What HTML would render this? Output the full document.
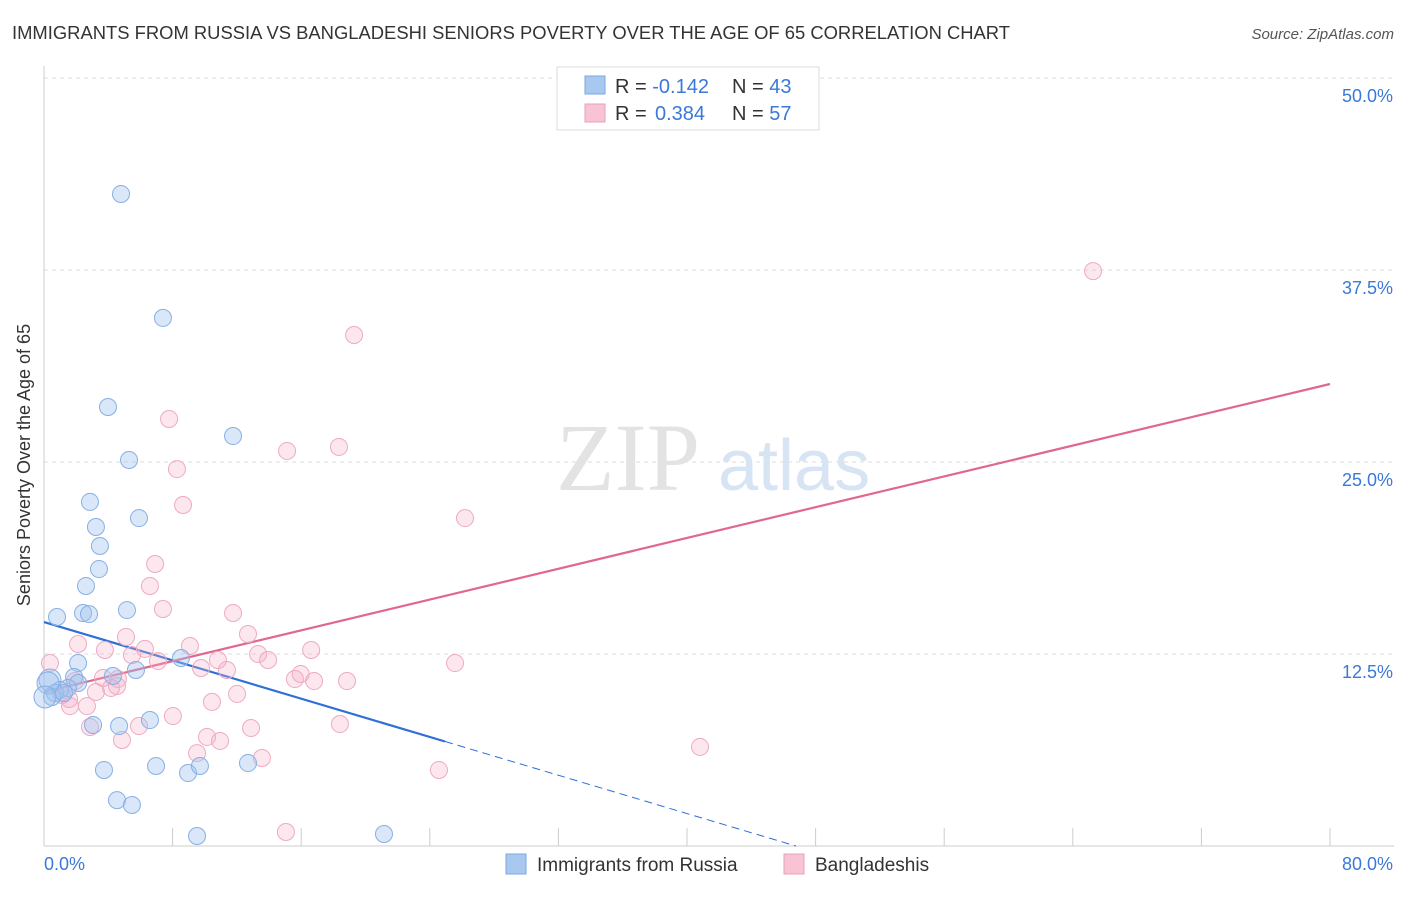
<!DOCTYPE html>
<html><head><meta charset="utf-8"><style>
body{margin:0;background:#fff;font-family:"Liberation Sans",sans-serif}
</style></head><body>
<svg width="1406" height="892" xmlns="http://www.w3.org/2000/svg" style="font-family:'Liberation Sans',sans-serif">
<text x="12" y="39" font-size="18" fill="#333" textLength="998" lengthAdjust="spacingAndGlyphs">IMMIGRANTS FROM RUSSIA VS BANGLADESHI SENIORS POVERTY OVER THE AGE OF 65 CORRELATION CHART</text>
<text x="1394" y="39" font-size="15" fill="#555" font-style="italic" text-anchor="end">Source: ZipAtlas.com</text>
<g id="grid"></g>
<text x="700" y="490" font-size="96" fill="#e3e3e3" text-anchor="end" font-family="Liberation Serif">ZIP</text>
<text x="718" y="490" font-size="72" fill="#d6e4f4">atlas</text>
<text x="20" y="455" font-size="18" fill="#333" text-anchor="middle" transform="rotate(-90 30 455)">Seniors Poverty Over the Age of 65</text>
<g id="lines"></g>
<g id="points"></g>
<g>
<rect x="557" y="67" width="262" height="63" fill="#fff" stroke="#ddd"/>
<rect x="585" y="76" width="20" height="18" fill="#a9c8f0" stroke="#7aa7e0"/>
<rect x="585" y="104" width="20" height="18" fill="#f8c4d4" stroke="#e8a0b8"/>
<text x="615" y="93" font-size="20" fill="#333">R = <tspan fill="#3b78d8">-0.142</tspan></text>
<text x="732" y="93" font-size="20" fill="#333">N = <tspan fill="#3b78d8">43</tspan></text>
<text x="615" y="120" font-size="20" fill="#333">R = <tspan x="655" fill="#3b78d8">0.384</tspan></text>
<text x="732" y="120" font-size="20" fill="#333">N = <tspan fill="#3b78d8">57</tspan></text>
</g>
<g>
<rect x="506" y="854" width="20" height="20" fill="#a9c8f0" stroke="#7aa7e0"/>
<text x="537" y="871" font-size="19" fill="#333">Immigrants from Russia</text>
<rect x="784" y="854" width="20" height="20" fill="#f8c4d4" stroke="#e8a0b8"/>
<text x="815" y="871" font-size="19" fill="#333">Bangladeshis</text>
</g>
</svg>
<script>
const yTicks=[12.5,25,37.5,50];
const yTickLabels=["12.5%","25.0%","37.5%","50.0%"];
const xTicks=[0,8,16,24,32,40,48,56,64,72,80];
const russiaX=[4.79,7.40,3.98,11.76,5.29,2.86,5.91,3.23,3.48,3.42,2.61,0.81,2.43,2.80,5.16,2.12,8.52,5.72,4.29,1.87,2.12,0.37,1.49,1.00,0.68,0.50,1.24,6.59,3.05,4.67,3.73,6.97,8.96,9.70,12.69,4.54,5.47,9.52,21.15,0.25,0.06];
const russiaY=[42.45,34.38,28.58,26.69,25.13,22.40,21.35,20.77,19.53,18.03,16.93,14.91,15.17,15.10,15.36,11.91,12.24,11.46,11.07,11.00,10.61,10.81,10.29,10.16,9.96,9.70,9.96,8.20,7.88,7.81,4.95,5.21,4.75,5.21,5.40,2.99,2.67,0.65,0.78,10.61,9.70];
const bangX=[65.26,19.29,7.78,15.12,18.35,8.27,8.65,26.19,6.91,6.59,7.40,11.76,12.69,5.10,2.12,6.28,9.08,3.79,13.32,16.62,5.47,7.09,10.82,13.94,25.57,9.77,11.38,15.97,0.37,15.61,16.80,18.85,4.60,3.67,1.93,4.54,4.17,3.23,1.12,1.56,12.01,10.45,1.62,2.67,8.02,18.41,12.88,2.86,5.91,4.85,10.14,10.95,9.52,13.56,40.81,24.57,15.05];
const bangY=[37.43,33.27,27.80,25.72,25.98,24.54,22.20,21.35,18.36,16.93,15.43,15.17,13.80,13.61,13.15,12.83,13.02,12.76,12.50,12.76,12.43,12.04,12.11,12.11,11.91,11.59,11.46,11.20,11.91,10.87,10.74,10.74,10.87,10.94,10.74,10.42,10.29,10.03,9.83,9.57,9.90,9.38,9.11,9.11,8.46,7.94,7.68,7.75,7.81,6.90,7.10,6.84,6.05,5.73,6.45,4.95,0.91];
const russiaTrend=[14.58,-0.3117];
const bangTrend=[10.03,0.2506];
const X=v=>44+v/80*1286, Y=v=>846-v/12.5*192;
const NS="http://www.w3.org/2000/svg";
function mk(t,a,p){const e=document.createElementNS(NS,t);for(const k in a)e.setAttribute(k,a[k]);p.appendChild(e);return e;}
const grid=document.getElementById('grid');
yTicks.forEach((v,i)=>{
 const l=mk('line',{x1:44,x2:1394,y1:Y(v),y2:Y(v),stroke:'#ddd','stroke-dasharray':'4,4'},grid);
 
 
 const t=mk('text',{x:1393,y:Y(v)+24,'font-size':18,fill:'#3b78d8','text-anchor':'end'},grid);
 t.textContent=yTickLabels[i];
 
 
});
const ax=mk('line',{x1:44,x2:44,y1:66,y2:846,stroke:'#ccc'},grid);


const bx=mk('line',{x1:44,x2:1394,y1:846,y2:846,stroke:'#ccc'},grid);


xTicks.forEach(v=>{const l=mk('line',{x1:X(v),x2:X(v),y1:828,y2:846,stroke:'#ccc'},grid);
 
 });
const t0=mk('text',{x:44,y:870,'font-size':18,fill:'#3b78d8'},grid);t0.textContent='0.0%';


const t1=mk('text',{x:1393,y:870,'font-size':18,fill:'#3b78d8','text-anchor':'end'},grid);t1.textContent='80.0%';


const pts=document.getElementById('points');
function series(xs,ys,fill,stroke,name){xs.forEach((x,i)=>{
 const big=(x<0.4&&name==='russia-point')?11:8.5;
 const c=mk('circle',{cx:X(x),cy:Y(ys[i]),r:big,fill:fill,stroke:stroke,'stroke-width':1},pts);
 
 
});}
series(bangX,bangY,'rgba(245,175,198,0.3)','#eeaac0','bangladeshi-point');
series(russiaX,russiaY,'rgba(160,196,240,0.4)','#86b0e4','russia-point');
const lines=document.getElementById('lines');
const rEnd=24.95, rZero=-russiaTrend[0]/russiaTrend[1];
const l1=mk('line',{x1:X(0),y1:Y(russiaTrend[0]),x2:X(rEnd),y2:Y(russiaTrend[0]+russiaTrend[1]*rEnd),stroke:'#2f6fd6','stroke-width':2.2},lines);


const l2=mk('line',{x1:X(rEnd),y1:Y(russiaTrend[0]+russiaTrend[1]*rEnd),x2:X(rZero),y2:Y(0),stroke:'#2f6fd6','stroke-width':1,'stroke-dasharray':'8,5'},lines);


const l3=mk('line',{x1:X(0),y1:Y(bangTrend[0]),x2:X(80),y2:Y(bangTrend[0]+bangTrend[1]*80),stroke:'#e0688f','stroke-width':2.2},lines);


</script>
</body></html>
